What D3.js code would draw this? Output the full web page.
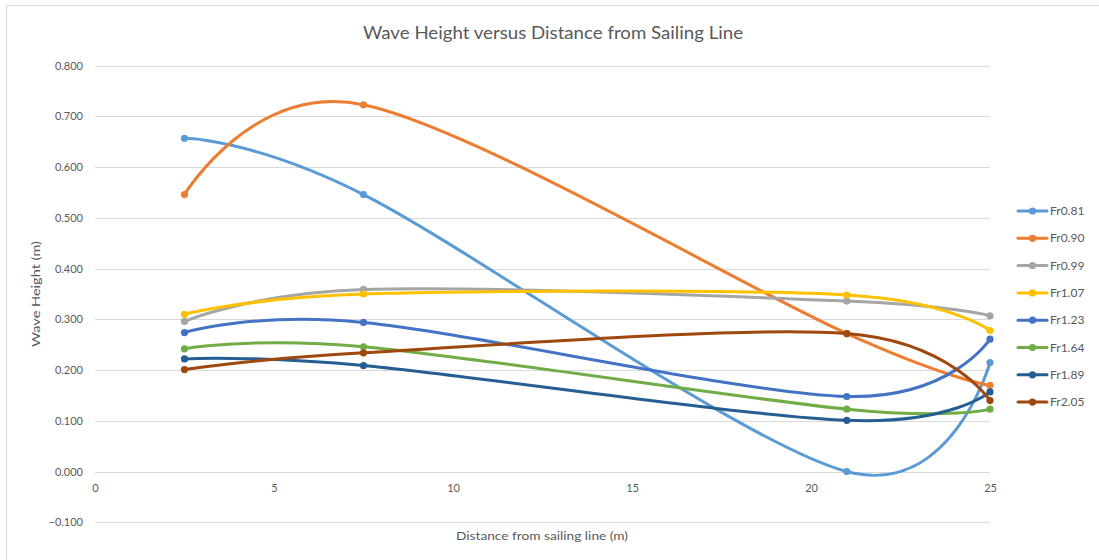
<!DOCTYPE html>
<html><head><meta charset="utf-8">
<script src="https://cdn.jsdelivr.net/npm/d3@7"></script>
<style>
body{margin:0;background:#fff;}
svg{display:block;font-family:Lato,"Open Sans",sans-serif;}
</style></head>
<body>
<svg id="chart" width="1099" height="560"></svg>
<script>
const distances = [2.5, 7.5, 21, 25];
const seriesNames = ["Fr0.81","Fr0.90","Fr0.99","Fr1.07","Fr1.23","Fr1.64","Fr1.89","Fr2.05"];
const fr081 = [0.657, 0.546, 0.000, 0.215];
const fr090 = [0.546, 0.723, 0.272, 0.170];
const fr099 = [0.296, 0.359, 0.336, 0.307];
const fr107 = [0.310, 0.350, 0.348, 0.278];
const fr123 = [0.274, 0.294, 0.148, 0.261];
const fr164 = [0.242, 0.246, 0.123, 0.123];
const fr189 = [0.222, 0.209, 0.101, 0.157];
const fr205 = [0.201, 0.234, 0.272, 0.140];
const seriesValues = [fr081, fr090, fr099, fr107, fr123, fr164, fr189, fr205];
const colors = ["#5B9BD5","#ED7D31","#A5A5A5","#FFC000","#4472C4","#70AD47","#255E91","#9E480E"];
const xTicks = [0, 5, 10, 15, 20, 25];
const yTicks = [-0.1, 0, 0.1, 0.2, 0.3, 0.4, 0.5, 0.6, 0.7, 0.8];

const svg = d3.select("#chart");
// chart border
svg.append("rect").attr("x",6.5).attr("y",5.5).attr("width",1200).attr("height",600)
  .attr("fill","none").attr("stroke","#d9d9d9").attr("stroke-width",1);

const x = d3.scaleLinear().domain([0,25]).range([95,990]);
const y = d3.scaleLinear().domain([-0.1,0.8]).range([522.3,65.7]);

// gridlines
svg.append("g").selectAll("line").data(yTicks).join("line")
  .attr("x1",x(0)).attr("x2",x(25))
  .attr("y1",d=>Math.round(y(d))+0.5).attr("y2",d=>Math.round(y(d))+0.5)
  .attr("stroke","#d9d9d9").attr("stroke-width",1);

// y axis labels
const yAxis = d3.axisLeft(y).tickValues(yTicks).tickFormat(d3.format(".3f")).tickSize(0).tickPadding(0);
const gy = svg.append("g").attr("transform","translate(83,0)").call(yAxis);
gy.select(".domain").remove();
gy.selectAll("text").attr("fill","#595959").style("font-size","11px").style("font-family","Lato, sans-serif");

// x axis labels at y=0
const xAxis = d3.axisBottom(x).tickValues(xTicks).tickFormat(d3.format("d")).tickSize(0).tickPadding(0);
const gx = svg.append("g").attr("transform",`translate(0,${y(0)+13})`).call(xAxis);
gx.select(".domain").remove();
gx.selectAll("text").attr("fill","#595959").style("font-size","11px").style("font-family","Lato, sans-serif");

// series
const line = d3.line().x((d,i)=>x(distances[i])).y(d=>y(d)).curve(d3.curveCardinal.tension(0));
seriesValues.forEach((vals,k)=>{
  const g = svg.append("g");
  g.append("path").attr("d",line(vals)).attr("fill","none").attr("stroke",colors[k])
    .attr("stroke-width",3).attr("stroke-linecap","round").attr("stroke-linejoin","round");
  g.selectAll("circle").data(vals).join("circle")
    .attr("cx",(d,i)=>x(distances[i])).attr("cy",d=>y(d)).attr("r",3.6).attr("fill",colors[k]);
});

// title
svg.append("text").attr("x",553).attr("y",39).attr("text-anchor","middle")
  .attr("fill","#595959").style("font-size","18px").attr("textLength",380).attr("lengthAdjust","spacingAndGlyphs")
  .text("Wave Height versus Distance from Sailing Line");

// axis titles
svg.append("text").attr("x",542).attr("y",540).attr("text-anchor","middle")
  .attr("fill","#595959").style("font-size","12px").attr("textLength",172).attr("lengthAdjust","spacingAndGlyphs")
  .text("Distance from sailing line (m)");
svg.append("text").attr("transform","translate(40,294) rotate(-90)").attr("text-anchor","middle")
  .attr("fill","#595959").style("font-size","12px").attr("textLength",106).attr("lengthAdjust","spacingAndGlyphs")
  .text("Wave Height (m)");

// legend
const leg = svg.append("g");
seriesNames.forEach((name,k)=>{
  const ly = 211 + k*27.3;
  leg.append("line").attr("x1",1018).attr("x2",1047).attr("y1",ly).attr("y2",ly)
    .attr("stroke",colors[k]).attr("stroke-width",3).attr("stroke-linecap","round");
  leg.append("circle").attr("cx",1032.5).attr("cy",ly).attr("r",3.6).attr("fill",colors[k]);
  leg.append("text").attr("x",1050).attr("y",ly+4).attr("fill","#595959").style("font-size","12px").text(name);
});
</script>
</body></html>
